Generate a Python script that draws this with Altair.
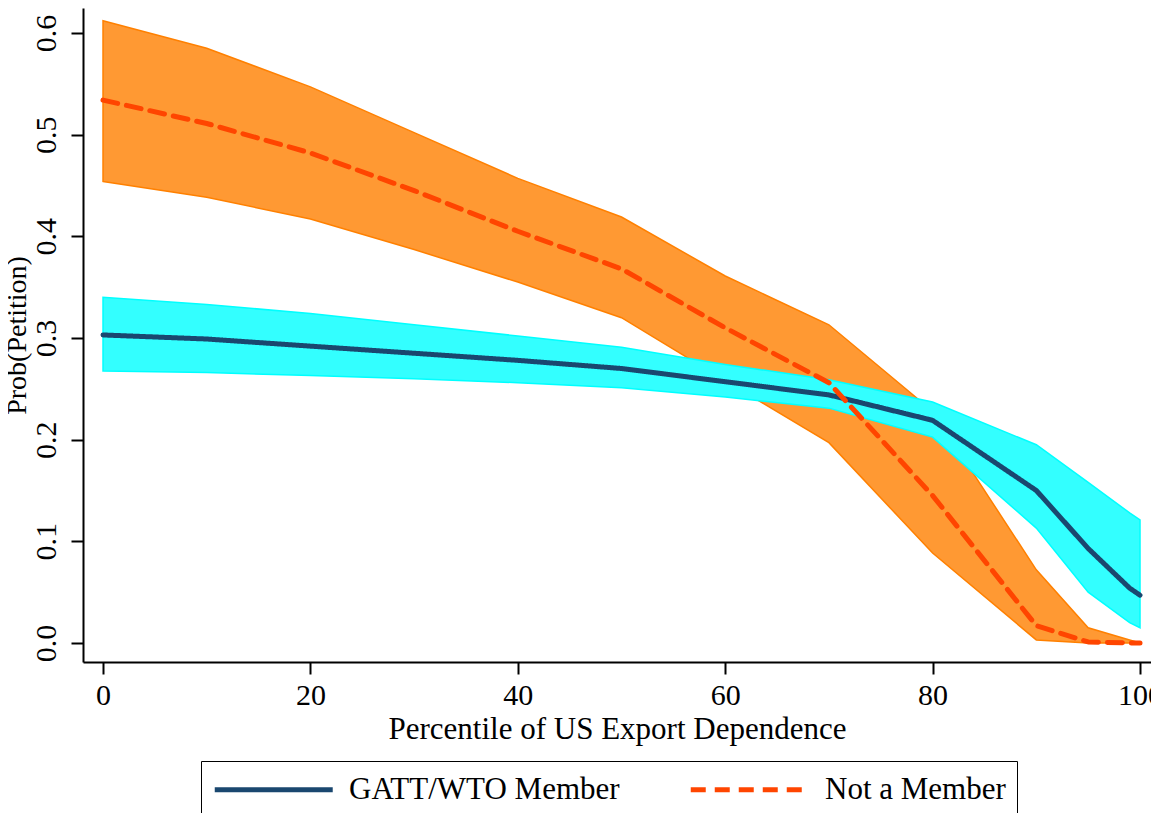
import altair as alt
import pandas as pd

pct = [0, 10, 20, 30, 40, 50, 60, 70, 80, 90, 95, 99, 100]

member_mid = [0.303, 0.299, 0.292, 0.285, 0.278, 0.270, 0.257, 0.244, 0.219, 0.150, 0.093, 0.054, 0.047]
member_lo = [0.2675, 0.266, 0.263, 0.260, 0.256, 0.251, 0.242, 0.231, 0.2025, 0.113, 0.050, 0.020, 0.015]
member_hi = [0.340, 0.333, 0.324, 0.313, 0.302, 0.291, 0.274, 0.259, 0.237, 0.195, 0.158, 0.128, 0.121]

nonmember_mid = [0.534, 0.511, 0.482, 0.445, 0.405, 0.368, 0.310, 0.256, 0.145, 0.017, 0.001, 0.0, 0.0]
nonmember_lo = [0.454, 0.4385, 0.417, 0.387, 0.355, 0.320, 0.258, 0.197, 0.0885, 0.003, 0.0, 0.0, 0.0]
nonmember_hi = [0.612, 0.585, 0.547, 0.502, 0.457, 0.419, 0.361, 0.313, 0.228, 0.072, 0.015, 0.003, 0.0]

series_names = ["GATT/WTO Member", "Not a Member"]
line_colors = ["#1A476F", "#FF4500"]

rows = []
for i, p in enumerate(pct):
    rows.append({"pct": p, "series": series_names[0], "mid": member_mid[i], "lo": member_lo[i], "hi": member_hi[i]})
    rows.append({"pct": p, "series": series_names[1], "mid": nonmember_mid[i], "lo": nonmember_lo[i], "hi": nonmember_hi[i]})
df = pd.DataFrame(rows)

FONT = "Liberation Serif"

x_enc = alt.X("pct:Q", scale=alt.Scale(domain=[-1.93, 101.06], nice=False, zero=False),
              axis=alt.Axis(title="Percentile of US Export Dependence", values=[0, 20, 40, 60, 80, 100],
                            format="d", titlePadding=4, labelPadding=6, titleFontSize=31))
y_axis = alt.Axis(title="Prob(Petition)", values=[0, 0.1, 0.2, 0.3, 0.4, 0.5, 0.6], format=".1f",
                  labelAngle=270, labelAlign="center", labelBaseline="bottom", labelPadding=10,
                  titlePadding=0, titleFontSize=28)
y_scale = alt.Scale(domain=[-0.0187, 0.6246], nice=False, zero=False)

base = alt.Chart(df)

band_non = base.transform_filter(alt.datum.series == series_names[1]).mark_area(
    color="#FF9933", stroke="#FF8000", strokeWidth=1.5, opacity=1
).encode(x=x_enc, y=alt.Y("lo:Q", scale=y_scale, axis=y_axis), y2="hi:Q")

band_mem = base.transform_filter(alt.datum.series == series_names[0]).mark_area(
    color="#33FFFF", stroke="#00FFFF", strokeWidth=1.5, opacity=1
).encode(x=x_enc, y=alt.Y("lo:Q", scale=y_scale, axis=y_axis), y2="hi:Q")

leg = alt.Legend(title=None, labelFont=FONT, labelFontSize=31, labelColor="black")

lines = base.mark_line(strokeWidth=5, strokeCap="round", strokeJoin="round").encode(
    x=x_enc,
    y=alt.Y("mid:Q", scale=y_scale, axis=y_axis),
    color=alt.Color("series:N", scale=alt.Scale(domain=series_names, range=line_colors), legend=leg),
    strokeDash=alt.StrokeDash("series:N", scale=alt.Scale(domain=series_names, range=[[1, 0], [15, 9]]),
                              legend=leg),
)

chart = alt.layer(band_non, band_mem, lines).properties(
    width=1068, height=654,
    autosize=alt.AutoSizeParams(type="none"),
    padding={"left": 75, "top": 0, "right": 0, "bottom": 151},
).configure(font=FONT).configure_view(stroke=None).configure_axis(
    labelFont=FONT, titleFont=FONT, labelFontSize=30,
    labelColor="black", titleColor="black", titleFontWeight="normal",
    domainColor="black", domainWidth=2, tickColor="black", tickWidth=2, tickSize=12,
    grid=False,
).configure_legend(
    orient="none", legendX=118, legendY=753, direction="horizontal", columns=2,
    strokeColor="black", padding=11, labelFont=FONT, labelFontSize=31, labelColor="black",
    symbolType="M-1,0H7", symbolSize=870, symbolStrokeWidth=5, labelOffset=102,
    columnPadding=60, fillColor="white", labelLimit=400,
)

chart.save("out.html", embed_options={"renderer": "svg", "actions": False})
